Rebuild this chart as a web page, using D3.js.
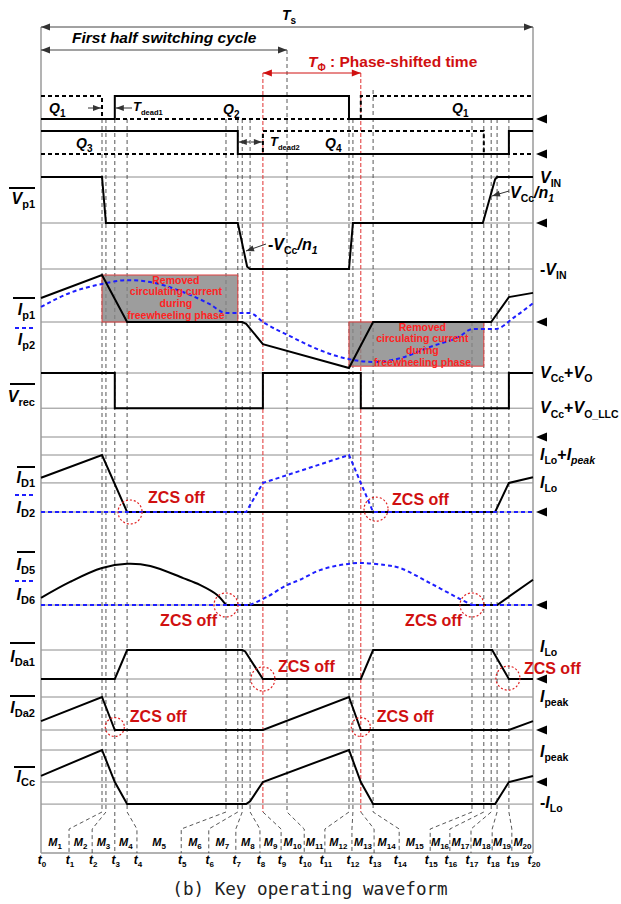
<!doctype html>
<html>
<head>
<meta charset="utf-8">
<title>Key operating waveform</title>
<script src="https://d3js.org/d3.v7.min.js"></script>
<style>
body { margin: 0; background: #fff; }
svg text { font-family: 'Liberation Sans', Arial, sans-serif; font-weight: bold; }
.caption { font-family: 'DejaVu Sans Mono', monospace; font-weight: normal !important; }
</style>
</head>
<body>
<div id="chart"></div>
<script>

// all times are in % of the switching period Ts
var tEdges = [0, 12.4, 13.2, 15.0, 17.5, 37.6, 40.0, 40.9, 42.5, 45.1, 50.0,
              62.6, 63.4, 65.0, 67.5, 87.6, 90.0, 91.5, 92.7, 95.1, 100];
var tLabelAt = [0, 5.7, 10.4, 15.0, 19.5, 28.5, 34.1, 39.6, 44.5, 48.8, 53.5,
                57.7, 63.2, 67.7, 72.8, 79.1, 83.1, 87.4, 91.7, 95.7, 100];
var redEdges = [9, 13];

// gate signals (0 = off, 1 = on)
var q1 = [[0,1],[12.4,1],[12.4,0],[65.0,0],[65.0,1],[100,1]];
var q2 = [[0,0],[15.0,0],[15.0,1],[62.6,1],[62.6,0],[100,0]];
var q3 = [[0,1],[40.0,1],[40.0,0],[95.1,0],[95.1,1],[100,1]];
var q4 = [[0,0],[45.1,0],[45.1,1],[90.0,1],[90.0,0],[100,0]];

// primary voltage (1 = VIN, 0 = VCc/n1 level, -1 = -VIN)
var vp1 = [[0,1],[12.4,1],[13.2,0],[40.0,0],[41.9,-0.95],[42.5,-1],[62.6,-1],[63.4,0],
           [89.8,0],[92.3,0.95],[92.7,1],[100,1]];

// primary currents
var ip1 = [[0,0.51],[12.4,1],[17.5,0],[40.9,0],[41.7,-0.04],[45.1,-0.47],[62.6,-0.98],
           [67.5,0],[91.5,0],[95.1,0.53],[100,0.62]];
var ip2 = [[0,0.32],[5.9,0.62],[12.4,0.81],[17.5,0.89],[22.2,0.85],[28.3,0.66],[34.3,0.38],
           [37.6,0.19],[42.5,0.19],[45.1,0],[50.6,-0.30],[56.7,-0.60],[62.6,-0.79],[67.5,-0.85],
           [73.0,-0.77],[79.1,-0.53],[85.2,-0.30],[87.6,-0.15],[92.3,-0.15],[96.3,0.11],[100,0.40]];

// rectifier voltage (1 = VCc+VO, 0.45 = VCc+VO_LLC)
var vrec = [[0,1],[15.0,1],[15.0,0.45],[45.1,0.45],[45.1,1],[65.0,1],[65.0,0.45],
            [95.1,0.45],[95.1,1],[100,1]];

// diode currents (1 = ILo+Ipeak, 0.51 = ILo)
var id1 = [[0,0.6],[12.4,1],[17.5,0],[92.3,0],[95.1,0.51],[100,0.61]];
var id2 = [[0,0],[41.7,0],[45.1,0.51],[62.6,1],[67.5,0],[100,0]];

var id5Arc = [[0,0.17],[5.9,0.55],[12.4,0.88],[17.5,0.98],[22.2,0.93],[28.9,0.64],
              [32.3,0.48],[35.8,0.24],[37.6,0]];
var id5Tail = [[37.6,0],[92.7,0],[100,0.6]];
var id6Head = [[0,0],[42.5,0]];
var id6Arc = [[42.5,0],[45.9,0.19],[49.6,0.45],[52.6,0.6],[56.7,0.83],[60.8,0.95],[65.0,1.0],
              [69.9,0.95],[73.0,0.88],[79.1,0.52],[85.2,0.14],[87.6,0]];
var id6Tail = [[87.6,0],[100,0]];

// auxiliary diode and clamp capacitor currents
var ida1 = [[0,0],[15.0,0],[17.5,1],[40.9,1],[41.5,0.95],[45.1,0],[65.0,0],[67.5,1],
            [91.7,1],[95.1,0],[100,0]];
var ida2 = [[0,0.27],[12.4,1],[15.0,0],[45.1,0],[62.6,1],[65.0,0],[95.1,0],[100,0.27]];
var icc = [[0,0.19],[12.4,1],[15.0,0],[17.5,-0.69],[41.7,-0.69],[42.5,-0.6],[45.1,0],
           [62.6,1],[65.0,0],[67.5,-0.69],[92.3,-0.69],[95.1,0],[100,0.19]];

// ZCS points [t, value]
var zcsID = [[18.1,0],[68.1,0.05]];
var zcsID5 = [[37.6,0],[87.6,0]];
var zcsDa1 = [[45.1,0],[94.9,0.03]];
var zcsDa2 = [[15.0,0.09],[65.0,0.09]];

var boxLines = ["Removed", "circulating current", "during", "freewheeling phase"];

//////////////

var width = 621, height = 904;
var svg = d3.select("#chart").append("svg").attr("width", width).attr("height", height);

var x = d3.scaleLinear().domain([0, 100]).range([41, 533]);
var yQ12 = d3.scaleLinear().domain([0, 1]).range([119, 96]);
var yQ34 = d3.scaleLinear().domain([0, 1]).range([154, 131]);
var yVp = d3.scaleLinear().domain([-1, 1]).range([269, 177]);
var yIp = d3.scaleLinear().domain([-1, 1]).range([369, 275]);
var yVrec = d3.scaleLinear().domain([0, 1]).range([437, 373]);
var yID = d3.scaleLinear().domain([0, 1]).range([512, 455]);
var yID5 = d3.scaleLinear().domain([0, 1]).range([605, 563]);
var yDa1 = d3.scaleLinear().domain([0, 1]).range([679, 650]);
var yDa2 = d3.scaleLinear().domain([0, 1]).range([730, 697]);
var yCc = d3.scaleLinear().domain([0, 1]).range([782, 750]);

var RED = "#d01010";

// text with sub-scripts: parts = [[text, flags]] ; s = subscript, n = upright, i = italic sub
function rich(g, px, py, parts, opt) {
  opt = opt || {};
  var size = opt.size || 16, sub = opt.sub || Math.round(size * 0.66);
  var t = g.append("text").attr("x", px).attr("y", py)
    .attr("text-anchor", opt.anchor || "start").attr("fill", opt.color || "#000");
  var shift = 0;
  parts.forEach(function(p) {
    var f = p[1] || "";
    var isSub = f.indexOf("s") >= 0;
    var ital = isSub ? f.indexOf("i") >= 0 : f.indexOf("n") < 0;
    var dy = 0;
    if (isSub && shift === 0) { dy = size * 0.27; shift = dy; }
    else if (!isSub && shift !== 0) { dy = -shift; shift = 0; }
    t.append("tspan").attr("dy", dy)
      .style("font-size", (isSub ? sub : size) + "px")
      .style("font-style", ital ? "italic" : "normal")
      .text(p[0]);
  });
  return t;
}

function hline(y, x0, x1, color, w) {
  svg.append("line").attr("x1", x0).attr("x2", x1).attr("y1", y).attr("y2", y)
    .attr("stroke", color || "#8c8c8c").attr("stroke-width", w || 1);
}

function arrowHead(px, py, dir, color) {
  // dir: 1 = pointing right, -1 = pointing left
  svg.append("path")
    .attr("d", "M" + px + "," + py + "L" + (px - dir * 9) + "," + (py - 3.5) + "L" + (px - dir * 9) + "," + (py + 3.5) + "Z")
    .attr("fill", color || "#333");
}

function arrowTo(x0, y0, x1, y1, color) {
  svg.append("line").attr("x1", x0).attr("y1", y0).attr("x2", x1).attr("y2", y1)
    .attr("stroke", color || "#333").attr("stroke-width", 1);
  var a = Math.atan2(y1 - y0, x1 - x0) * 180 / Math.PI;
  svg.append("path").attr("d", "M0,0L-8,-3L-8,3Z").attr("fill", color || "#333")
    .attr("transform", "translate(" + x1 + "," + y1 + ") rotate(" + a + ")");
}

//// horizontal gridlines
var grids = [[yVp, [1, 0, -1]], [yIp, [0]], [yVrec, [1, 0.45, 0]], [yID, [1, 0.51, 0]],
             [yID5, [0]], [yDa1, [1, 0]], [yDa2, [1, 0]], [yCc, [1, 0, -0.69]]];
grids.forEach(function(g) {
  g[1].forEach(function(v) { hline(g[0](v), x(0), x(100)); });
});
hline(853, x(0), x(100), "#999", 1.5);

//// vertical time lines with kinks down to the interval labels
tEdges.forEach(function(te, i) {
  if (i === 0 || i === tEdges.length - 1) return;
  var xe = x(te), xl = x(tLabelAt[i]);
  var isRed = redEdges.indexOf(i) >= 0;
  var top = i === 10 ? 50 : (i === 14 ? 90 : 119);
  if (isRed) {
    svg.append("line").attr("x1", xe).attr("x2", xe).attr("y1", 73).attr("y2", 812)
      .attr("stroke", "#e03030").attr("stroke-width", 1).attr("stroke-dasharray", "4,2");
    svg.append("path").attr("d", "M" + xe + ",812L" + xl + ",829L" + xl + ",853")
      .attr("fill", "none").attr("stroke", "#444").attr("stroke-width", 0.9).attr("stroke-dasharray", "4,3");
  } else {
    svg.append("path").attr("d", "M" + xe + "," + top + "L" + xe + ",812L" + xl + ",829L" + xl + ",853")
      .attr("fill", "none").attr("stroke", "#444").attr("stroke-width", 0.9).attr("stroke-dasharray", "4,3");
  }
});

// outer frame
[0, 100].forEach(function(t) {
  svg.append("line").attr("x1", x(t)).attr("x2", x(t)).attr("y1", 27).attr("y2", 853)
    .attr("stroke", "#9a9a9a").attr("stroke-width", 1.5);
});

//// Ts, half cycle, phase shift arrows
hline(27, x(0), x(100), "#444", 1);
arrowHead(x(0), 27, -1); arrowHead(x(100), 27, 1);
rich(svg, x(50) - 5, 20, [["T"], ["s", "s"]], {size: 14, sub: 10});

hline(50, x(0), x(50), "#444", 1);
arrowHead(x(0), 50, -1); arrowHead(x(50), 50, 1);
rich(svg, 72, 43, [["First half switching cycle"]], {size: 15.5});

hline(73, x(tEdges[9]), x(tEdges[13]), RED, 1);
arrowHead(x(tEdges[9]), 73, -1, RED); arrowHead(x(tEdges[13]), 73, 1, RED);
rich(svg, 308, 67, [["T"], ["Φ", "s"], [" : Phase-shifted time", "n"]], {size: 15.5, sub: 10, color: RED});

//// gray boxes: removed circulating current
var boxes = [[tEdges[1], tEdges[6], 1, 0], [tEdges[11], tEdges[16], 0, -0.94]];
boxes.forEach(function(b) {
  svg.append("rect").attr("x", x(b[0])).attr("y", yIp(b[2]))
    .attr("width", x(b[1]) - x(b[0])).attr("height", yIp(b[3]) - yIp(b[2]))
    .attr("fill", "#858585").attr("fill-opacity", 0.8)
    .attr("stroke", "#e04040").attr("stroke-width", 1);
});

//// waveforms
var line = d3.line().x(function(d) { return x(d[0]); });
function wave(data, ys, dashed, curve) {
  var l = line.y(function(d) { return ys(d[1]); }).curve(curve || d3.curveLinear);
  svg.append("path").attr("d", l(data)).attr("fill", "none")
    .attr("stroke", dashed === "blue" ? "#1e1eff" : "#000")
    .attr("stroke-width", 2)
    .attr("stroke-dasharray", dashed ? "4,3" : null);
}

wave(q2, yQ12); wave(q1, yQ12, "k");
wave(q3, yQ34); wave(q4, yQ34, "k");
wave(vp1, yVp);
wave(ip2, yIp, "blue", d3.curveMonotoneX);
wave(ip1, yIp);
wave(vrec, yVrec);
wave(id1, yID); wave(id2, yID, "blue");
wave(id5Arc, yID5, null, d3.curveCatmullRom); wave(id5Tail, yID5);
wave(id6Head, yID5, "blue"); wave(id6Arc, yID5, "blue", d3.curveCatmullRom); wave(id6Tail, yID5, "blue");
wave(ida1, yDa1);
wave(ida2, yDa2);
wave(icc, yCc);

// box texts on top
boxes.forEach(function(b) {
  var cx = (x(b[0]) + x(b[1])) / 2 + 6, top = yIp(b[2]);
  boxLines.forEach(function(s, k) {
    svg.append("text").attr("x", cx).attr("y", top + 8.5 + k * 11.8)
      .attr("text-anchor", "middle").attr("fill", "#ff2323")
      .style("font-size", "10.5px").text(s);
  });
});

//// ZCS circles and labels
function zcs(list, ys, r, place) {
  list.forEach(function(p, k) {
    var cx = x(p[0]), cy = ys(p[1]);
    svg.append("circle").attr("cx", cx).attr("cy", cy).attr("r", r)
      .attr("fill", "none").attr("stroke", "#e02020").attr("stroke-width", 1.2)
      .attr("stroke-dasharray", "2,2");
    var pl = place[k];
    rich(svg, cx + pl[0], cy + pl[1], [["ZCS off", "n"]], {size: 16, color: RED, anchor: pl[2] || "start"});
  });
}
zcs(zcsID, yID, 12, [[18, -9], [16, -4]]);
zcs(zcsID5, yID5, 12, [[-9, 21, "end"], [-10, 21, "end"]]);
zcs(zcsDa1, yDa1, 12, [[15, -7], [16, -4]]);
zcs(zcsDa2, yDa2, 9.5, [[15, -5], [16, -5]]);

//// right side zero markers
var markers = [yQ12(0), yQ34(0), yVp(0), yIp(0), yVrec(0), yID(0), yID5(0), yDa1(0), yDa2(0), yCc(0)];
markers.forEach(function(my) {
  svg.append("path").attr("d", "M536," + my + "L547," + (my - 4.5) + "L547," + (my + 4.5) + "Z").attr("fill", "#000");
});

//// gate labels and dead times
rich(svg, 49, 113, [["Q"], ["1", "s"]], {size: 14, sub: 10});
rich(svg, 223, 114, [["Q"], ["2", "s"]], {size: 14, sub: 10});
rich(svg, 76, 148, [["Q"], ["3", "s"]], {size: 14, sub: 10});
rich(svg, 325, 148, [["Q"], ["4", "s"]], {size: 14, sub: 10});
rich(svg, 452, 113, [["Q"], ["1", "s"]], {size: 14, sub: 10});

arrowTo(88, 108, x(tEdges[1]) - 1, 108);
arrowTo(132, 108, x(tEdges[3]) + 1, 108);
rich(svg, 133, 111, [["T"], ["dead1", "s"]], {size: 13, sub: 7.5});
arrowTo(250, 142, x(tEdges[6]) + 1, 142);
arrowTo(251, 142, x(tEdges[9]) - 1, 142);
rich(svg, 270, 146, [["T"], ["dead2", "s"]], {size: 13, sub: 7.5});

//// left waveform names with line samples
var leftNames = [
  [188, 9, "k", 204, [["V"], ["p1", "s"]]],
  [298, 13, "k", 315, [["I"], ["p1", "s"]]],
  [328, 15, "b", 345, [["I"], ["p2", "s"]]],
  [384, 10, "k", 402, [["V"], ["rec", "s"]]],
  [467, 17, "k", 483, [["I"], ["D1", "s"]]],
  [495, 15, "b", 513, [["I"], ["D2", "s"]]],
  [552, 17, "k", 570, [["I"], ["D5", "s"]]],
  [581, 15, "b", 600, [["I"], ["D6", "s"]]],
  [643, 10, "k", 662, [["I"], ["Da1", "s"]]],
  [696, 10, "k", 713, [["I"], ["Da2", "s"]]],
  [767, 14, "k", 782, [["I"], ["Cc", "s"]]]
];
leftNames.forEach(function(n) {
  svg.append("line").attr("x1", n[1]).attr("x2", 35).attr("y1", n[0]).attr("y2", n[0])
    .attr("stroke", n[2] === "b" ? "#1e1eff" : "#000").attr("stroke-width", 2)
    .attr("stroke-dasharray", n[2] === "b" ? "4,3" : null);
  rich(svg, 35, n[3], n[4], {size: 16, sub: 11, anchor: "end"});
});

//// right level labels
var R = 540;
rich(svg, R, yVp(1) + 6, [["V"], ["IN", "s"]], {sub: 10.5});
rich(svg, 510, 198, [["V"], ["Cc", "s"], ["/n"], ["1", "si"]], {sub: 10.5});
arrowTo(509, 191, 492, 196);
rich(svg, R, yVp(-1) + 6, [["-", "n"], ["V"], ["IN", "s"]], {sub: 10.5});
rich(svg, 268, 250, [["-", "n"], ["V"], ["Cc", "s"], ["/n"], ["1", "si"]], {sub: 10.5});
arrowTo(266, 244, 246, 251);
rich(svg, R, yVrec(1) + 5, [["V"], ["Cc", "s"], ["+", "n"], ["V"], ["O", "s"]], {sub: 10.5});
rich(svg, R, yVrec(0.45) + 5, [["V"], ["Cc", "s"], ["+", "n"], ["V"], ["O_LLC", "s"]], {sub: 10.5});
rich(svg, R, yID(1) + 5, [["I"], ["Lo", "s"], ["+", "n"], ["I"], ["peak", "si"]], {sub: 10.5});
rich(svg, R, yID(0.51) + 5, [["I"], ["Lo", "s"]], {sub: 10.5});
rich(svg, R, yDa1(1) + 2, [["I"], ["Lo", "s"]], {sub: 10.5});
rich(svg, R, yDa2(1) + 5, [["I"], ["peak", "s"]], {sub: 10.5});
rich(svg, R, yCc(1) + 7, [["I"], ["peak", "s"]], {sub: 10.5});
rich(svg, R, yCc(-0.69) + 4, [["-", "n"], ["I"], ["Lo", "s"]], {sub: 10.5});

//// interval labels M1..M20 and instants t0..t20
tLabelAt.forEach(function(t, i) {
  rich(svg, x(t) + 1, 864, [["t"], [String(i), "s"]], {size: 12, sub: 8, anchor: "middle"});
  if (i > 0) {
    var mx = (x(tLabelAt[i - 1]) + x(t)) / 2;
    rich(svg, mx, 846, [["M"], [String(i), "s"]], {size: 11, sub: 8, anchor: "middle"});
  }
});

svg.append("text").attr("class", "caption").attr("x", 310).attr("y", 895)
  .attr("text-anchor", "middle").attr("fill", "#222").style("font-size", "17.6px")
  .text("(b) Key operating waveform");

</script>
</body>
</html>
